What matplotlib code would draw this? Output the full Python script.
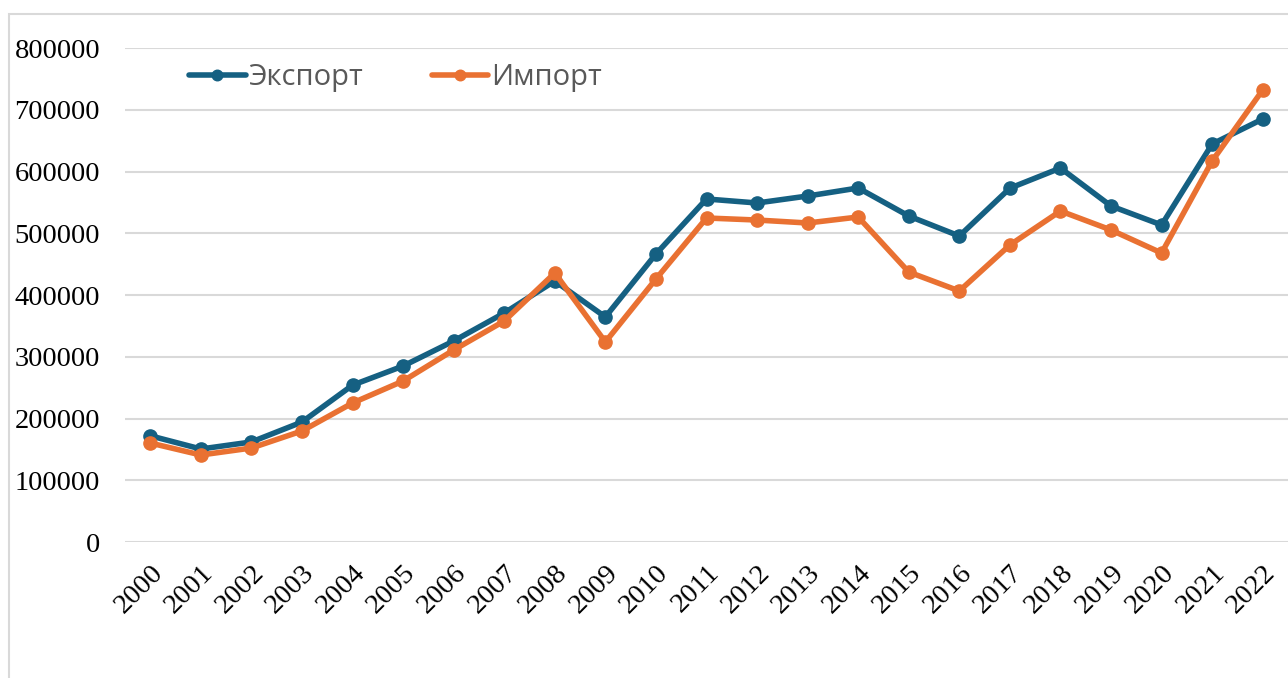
import matplotlib
matplotlib.use("Agg")
import matplotlib.pyplot as plt
from matplotlib.patches import Rectangle
from matplotlib.transforms import ScaledTranslation

years = [str(y) for y in range(2000, 2023)]
export = [172000, 150600, 162000, 194300, 254000, 285000, 325500, 370850, 422700,
          364400, 466400, 555500, 549000, 560300, 573300, 527900, 495500, 573000,
          605600, 544100, 513400, 644500, 685000]
imports = [160300, 140900, 152200, 179800, 225100, 260700, 310900, 357900, 435600,
           323900, 425900, 524700, 521400, 516600, 526300, 437200, 406500, 481000,
           536000, 505300, 468000, 617000, 732000]
series_names = ["Экспорт", "Импорт"]
yticks = list(range(0, 800001, 100000))

BLUE = "#156082"
ORANGE = "#E97132"

fig = plt.figure(figsize=(12.88, 6.78), dpi=100)
fig.patches.append(Rectangle((9 / 1288, -0.1), 1.2, (678 - 14) / 678 + 0.1,
                             transform=fig.transFigure, fill=False,
                             edgecolor="#d9d9d9", linewidth=1.5))
ax = fig.add_axes([125 / 1288, (678 - 542) / 678, 1 - 125 / 1288, (542 - 48) / 678])

x = list(range(len(years)))
ax.plot(x, export, color=BLUE, lw=4, marker="o", ms=9.5, label=series_names[0],
        solid_capstyle="round", zorder=3)
ax.plot(x, imports, color=ORANGE, lw=4, marker="o", ms=9.5, label=series_names[1],
        solid_capstyle="round", zorder=3)

ax.set_xlim(-0.5, len(years) - 0.5)
ax.set_ylim(0, 800000)
ax.set_yticks(yticks)
ax.set_yticklabels([str(v) for v in yticks], fontfamily="Liberation Serif", fontsize=20.5)
ax.set_xticks(x)
ax.set_xticklabels(years, fontfamily="Liberation Serif", fontsize=20.5,
                   rotation=45, ha="right", rotation_mode="anchor")
off = ScaledTranslation(-3 / 100, 0, fig.dpi_scale_trans)
for lbl in ax.get_xticklabels():
    lbl.set_transform(lbl.get_transform() + off)
ax.tick_params(axis="y", length=0, pad=18)
ax.tick_params(axis="x", length=0, pad=13)
ax.grid(axis="y", color="#d9d9d9", lw=1.5)
ax.set_axisbelow(True)
for s in ax.spines.values():
    s.set_visible(False)

leg = ax.legend(loc="center left", bbox_to_anchor=(189 / 1288, (678 - 78) / 678),
                bbox_transform=fig.transFigure, ncol=2, frameon=False,
                prop={"family": "Open Sans", "size": 21},
                handlelength=1.95, handletextpad=0.08, columnspacing=2.35,
                borderpad=0, borderaxespad=0, markerscale=0.8)
for t in leg.get_texts():
    t.set_color("#595959")

fig.savefig("out.png", dpi=100)
